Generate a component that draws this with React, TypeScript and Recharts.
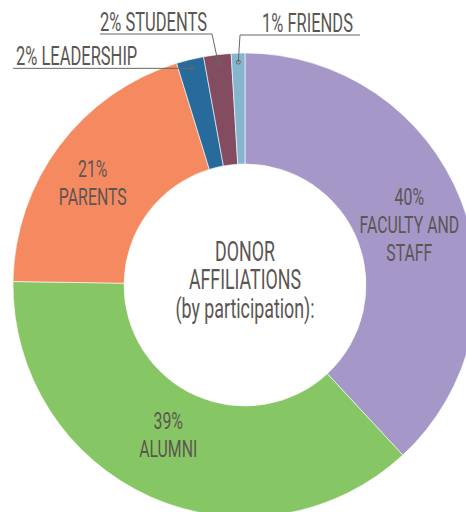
import { PieChart, Pie, Cell } from 'recharts';

const categories = ['Faculty and Staff', 'Alumni', 'Parents', 'Leadership', 'Students', 'Friends'];
const shares = [40, 39, 21, 2, 2, 1];
const labelLines = [['FACULTY AND', 'STAFF'], ['ALUMNI'], ['PARENTS'], ['LEADERSHIP'], ['STUDENTS'], ['FRIENDS']];
const colors = ['#a598c9', '#87c664', '#f58a61', '#276b9c', '#834c60', '#86b6cf'];
const centerLines = ['DONOR', 'AFFILIATIONS', '(by participation):'];

const data = categories.map((name, i) => ({ name, value: shares[i], lines: labelLines[i] }));

const RADIAN = Math.PI / 180;
const CX = 245;
const CY = 285;
const FONT = "Roboto, 'Liberation Sans', sans-serif";
const TEXT = '#5b5652';
const LEADER = '#6b6661';
const SX = 0.66;

// small shifts of the inside labels away from the slice middle
const nudges: [number, number][] = [[0, 3], [-5, -12], [-11, 3]];

// where the callouts of the thin slices go (elbow point, end of the underline, text anchor)
const callouts: Record<number, { elbow?: [number, number]; endX: number; textX: number; anchor: 'start' | 'end' }> = {
  3: { endX: 13, textX: 16, anchor: 'start' },
  4: { elbow: [212, 34], endX: 100, textX: 207, anchor: 'end' },
  5: { elbow: [240, 35], endX: 360, textX: 262, anchor: 'start' },
};

function Squeezed({ x, y, size, anchor, children }: any) {
  return (
    <text
      transform={`translate(${x} ${y}) scale(${SX} 1)`}
      textAnchor={anchor}
      fill={TEXT}
      fontFamily={FONT}
      fontSize={size}
    >
      {children}
    </text>
  );
}

function renderLabel(props: any) {
  const { cx, cy, midAngle, innerRadius, outerRadius, index, value, payload } = props;
  const lines: string[] = [`${value}%`, ...(payload?.lines ?? data[index].lines)];
  const c = callouts[index];
  if (!c) {
    const r = (innerRadius + outerRadius) / 2;
    const [nx, ny] = nudges[index] ?? [0, 0];
    const x = cx + r * Math.cos(-midAngle * RADIAN) + nx;
    const y = cy + r * Math.sin(-midAngle * RADIAN) + ny;
    const gap = 28;
    return (
      <g key={`lbl-${index}`}>
        {lines.map((t, i) => (
          <Squeezed key={i} x={x} y={y + (i - (lines.length - 1) / 2) * gap + 9} size={24} anchor="middle">
            {t}
          </Squeezed>
        ))}
      </g>
    );
  }
  const r = outerRadius - 9;
  const dx = cx + r * Math.cos(-midAngle * RADIAN);
  const dy = cy + r * Math.sin(-midAngle * RADIAN);
  const [ex, ey] = c.elbow ?? [dx, dy];
  return (
    <g key={`lbl-${index}`}>
      <polyline points={`${dx},${dy} ${ex},${ey} ${c.endX},${ey}`} fill="none" stroke={LEADER} strokeWidth={1} />
      <circle cx={dx} cy={dy} r={2} fill="none" stroke={LEADER} strokeWidth={1} />
      <Squeezed x={c.textX} y={ey - 3} size={25} anchor={c.anchor}>
        {lines.join(' ')}
      </Squeezed>
    </g>
  );
}

export default function App() {
  const offsets = [-24, 4, 33];
  return (
    <div style={{ position: 'absolute', left: 0, top: 0, width: 466, height: 512, background: '#fff' }}>
      <PieChart width={466} height={512} margin={{ top: 0, right: 0, bottom: 0, left: 0 }}>
        <Pie
          data={data}
          dataKey="value"
          nameKey="name"
          cx={CX}
          cy={CY}
          innerRadius={121}
          outerRadius={232}
          startAngle={90}
          endAngle={-270}
          stroke="#ffffff"
          strokeWidth={0.6}
          label={renderLabel}
          labelLine={false}
          isAnimationActive={false}
        >
          {data.map((d, i) => (
            <Cell key={d.name} fill={colors[i]} />
          ))}
        </Pie>
      </PieChart>
      <svg width={466} height={512} style={{ position: 'absolute', left: 0, top: 0, pointerEvents: 'none' }}>
        {centerLines.map((t, i) => (
          <Squeezed key={i} x={CX} y={CY + offsets[i]} size={27} anchor="middle">
            {t}
          </Squeezed>
        ))}
      </svg>
    </div>
  );
}
